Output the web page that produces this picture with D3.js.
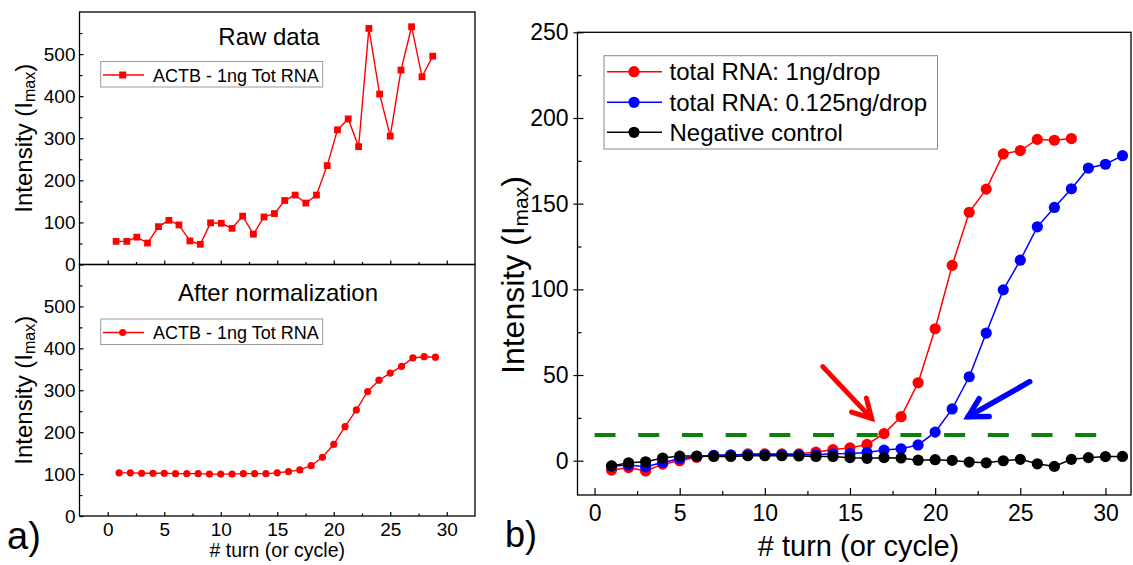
<!DOCTYPE html>
<html><head><meta charset="utf-8">
<script src="https://cdn.jsdelivr.net/npm/d3@7/dist/d3.min.js"></script>
<style>
body{margin:0;background:#fff}
text{font-family:"Liberation Sans",Arial,sans-serif;fill:#000}
</style>
</head><body>
<svg id="c" width="1133" height="565"></svg>
<script>
// ---------- data ----------
const rawTurns = [0.74,1.69,2.57,3.52,4.49,5.41,6.30,7.27,8.19,9.10,10.05,11.0,11.94,12.89,13.83,14.75,15.66,16.58,17.53,18.47,19.42,20.33,21.28,22.2,23.11,24.06,25.0,25.95,26.89,27.81,28.76];
const rawIntensity = [55,55,65,51,90,105,94,56,48,99,98,86,115,72,113,121,152,165,146,165,235,320,346,280,561,405,305,462,565,446,495];
const normTurns = [1,2,3,4,5,6,7,8,9,10,11,12,13,14,15,16,17,18,19,20,21,22,23,24,25,26,27,28,29];
const normIntensity = [103,103,102,102,102,101,101,101,100,100,100,101,101,101,103,106,110,120,140,171,213,253,297,324,341,357,377,380,379];

const turnsRed = [1,2,3,4,5,6,7,8,9,10,11,12,13,14,15,16,17,18,19,20,21,22,23,24,25,26,27,28];
const rna1ng = [-5.5,-4,-6,-2,0,2,3,3,4,4,4,4,5,6.5,7.5,9.5,15.8,25.7,45.5,77,114,145,158.5,179,181,187.5,187,188];
const turnsAll = [1,2,3,4,5,6,7,8,9,10,11,12,13,14,15,16,17,18,19,20,21,22,23,24,25,26,27,28,29,30,31];
const rna0125ng = [-3.2,-2.5,-3.5,-1,1.2,2.5,3.2,3.5,3.5,3.5,3.5,3.5,3.5,4,4.2,4.8,6.2,7,9.2,16.7,30.2,49,74.5,99.7,117,136.5,147.8,158.7,170.8,173,178];
const negControl = [-3,-1.2,-0.6,1.6,2.7,2.7,2.5,2.5,2.9,2.9,2.9,2.8,2.5,2.5,1.8,1.4,1.8,1.6,0.3,0.6,0.2,-0.8,-1.2,0,0.8,-1.8,-3.3,0.8,1.8,2.4,2.5];

const thresholdValue = 15;
const thresholdTurns = [0, 29.6];
const arrowRed = {from:[13.4,54.9], to:[16.27,24.7]};
const arrowBlue = {from:[25.55,46.1], to:[21.94,25.7]};

const xTickLabels = [0,5,10,15,20,25,30];
const xMinorTicks = [2.5,7.5,12.5,17.5,22.5,27.5,32.5];
const leftYTickLabels = [0,100,200,300,400,500];
const leftYMinor = [50,150,250,350,450,550];
const rightYTickLabels = [0,50,100,150,200,250];
const rightYMinor = [-25,25,75,125,175,225];

const legendLeft = "ACTB - 1ng Tot RNA";
const legendRight = ["total RNA: 1ng/drop","total RNA: 0.125ng/drop","Negative control"];

// ---------- drawing ----------
const svg = d3.select("#c");

// left scales
const xL = d3.scaleLinear().domain([-2.5,32.5]).range([79.5,475]);
const yTop = d3.scaleLinear().domain([0,600]).range([264.5,12]);
const yBot = d3.scaleLinear().domain([0,600]).range([516,264.5]);
// right scales
const xR = d3.scaleLinear().domain([-1,31.5]).range([577.5,1131]);
const yR = d3.scaleLinear().domain([-20,250]).range([495,32.3]);

function cleanAxis(g){ g.select(".domain").remove(); g.selectAll(".tick line").attr("stroke","#000").attr("stroke-width",1.2); }

function leftPanel(y, showXLabels, titleText, titleY, legendY, marker, xs, ys){
  const g = svg.append("g");
  // y axis
  const ya = g.append("g").attr("transform",`translate(${xL.range()[0]},0)`)
    .call(d3.axisLeft(y).tickValues(leftYTickLabels).tickSize(-4).tickPadding(4).tickFormat(d3.format("d")));
  cleanAxis(ya);
  ya.selectAll("text").attr("font-size",19).attr("font-family","Liberation Sans, Arial, sans-serif");
  const ym = g.append("g").attr("transform",`translate(${xL.range()[0]},0)`)
    .call(d3.axisLeft(y).tickValues(leftYMinor).tickSize(-3).tickFormat(""));
  cleanAxis(ym);
  // x axis
  const xa = g.append("g").attr("transform",`translate(0,${y.range()[0]})`)
    .call(d3.axisBottom(xL).tickValues(xTickLabels).tickSize(-4).tickPadding(7).tickFormat(showXLabels? d3.format("d"):""));
  cleanAxis(xa);
  xa.selectAll("text").attr("font-size",19).attr("font-family","Liberation Sans, Arial, sans-serif");
  const xm = g.append("g").attr("transform",`translate(0,${y.range()[0]})`)
    .call(d3.axisBottom(xL).tickValues(xMinorTicks.filter(v=>v<32)).tickSize(-2.5).tickFormat(""));
  cleanAxis(xm);
  // frame
  g.append("rect").attr("x",xL.range()[0]).attr("y",y.range()[1])
    .attr("width",xL.range()[1]-xL.range()[0]).attr("height",y.range()[0]-y.range()[1])
    .attr("fill","none").attr("stroke","#000").attr("stroke-width",1.3);
  // title
  g.append("text").attr("x", titleText==="Raw data"?269:278).attr("y",titleY)
    .attr("text-anchor","middle").attr("font-size",24).text(titleText);
  // y label
  const cy = (y.range()[0]+y.range()[1])/2;
  const yl = g.append("text").attr("transform",`translate(32,${cy}) rotate(-90)`)
    .attr("text-anchor","middle").attr("font-size",24);
  yl.append("tspan").text("Intensity (I");
  yl.append("tspan").attr("font-size",16).attr("dy",3).text("max");
  yl.append("tspan").attr("dy",-3).text(")");
  // legend
  g.append("rect").attr("x",100.7).attr("y",legendY-13.5).attr("width",222).attr("height",25.5)
    .attr("fill","#fff").attr("stroke","#999").attr("stroke-width",1);
  g.append("line").attr("x1",103).attr("x2",144).attr("y1",legendY).attr("y2",legendY)
    .attr("stroke","#f00").attr("stroke-width",1.5);
  if(marker==="square"){
    g.append("rect").attr("x",122.7-3.5).attr("y",legendY-3.5).attr("width",7).attr("height",7).attr("fill","#f00");
  } else {
    g.append("circle").attr("cx",122.7).attr("cy",legendY).attr("r",3.6).attr("fill","#f00");
  }
  g.append("text").attr("x",153).attr("y",legendY+6.5).attr("font-size",18).text(legendLeft);
  // data
  const pts = xs.map((x,i)=>[x,ys[i]]);
  g.append("path").datum(pts).attr("fill","none").attr("stroke","#f00").attr("stroke-width",1.4)
    .attr("d", d3.line().x(d=>xL(d[0])).y(d=>y(d[1])));
  if(marker==="square"){
    g.selectAll(".m").data(pts).join("rect").attr("x",d=>xL(d[0])-3.4).attr("y",d=>y(d[1])-3.4)
      .attr("width",6.8).attr("height",6.8).attr("fill","#f00");
  } else {
    g.selectAll(".m").data(pts).join("circle").attr("cx",d=>xL(d[0])).attr("cy",d=>y(d[1])).attr("r",3.6).attr("fill","#f00");
  }
}

leftPanel(yTop,false,"Raw data",45,75,"square",rawTurns,rawIntensity);
leftPanel(yBot,true,"After normalization",300.7,332.5,"circle",normTurns,normIntensity);

// left x title and label
svg.append("text").attr("x",(xL.range()[0]+xL.range()[1])/2+0).attr("y",557).attr("text-anchor","middle")
  .attr("font-size",19.5).text("# turn (or cycle)");
svg.append("text").attr("x",7).attr("y",549).attr("font-size",38).text("a)");

// ---------- right panel ----------
const gR = svg.append("g");
const yaR = gR.append("g").attr("transform",`translate(${xR.range()[0]},0)`)
  .call(d3.axisLeft(yR).tickValues(rightYTickLabels).tickSize(4).tickPadding(5).tickFormat(d3.format("d")));
cleanAxis(yaR);
yaR.selectAll("text").attr("font-size",23).attr("font-family","Liberation Sans, Arial, sans-serif");
const yaR2 = gR.append("g").attr("transform",`translate(${xR.range()[0]},0)`)
  .call(d3.axisLeft(yR).tickValues(rightYTickLabels).tickSize(-6).tickFormat(""));
cleanAxis(yaR2);
const ymR = gR.append("g").attr("transform",`translate(${xR.range()[0]},0)`)
  .call(d3.axisLeft(yR).tickValues(rightYMinor.filter(v=>v>-20)).tickSize(-4).tickFormat(""));
cleanAxis(ymR);
const xaR = gR.append("g").attr("transform",`translate(0,${yR.range()[0]})`)
  .call(d3.axisBottom(xR).tickValues(xTickLabels).tickSize(-7).tickPadding(10).tickFormat(d3.format("d")));
cleanAxis(xaR);
xaR.selectAll("text").attr("font-size",23).attr("font-family","Liberation Sans, Arial, sans-serif");
const xmR = gR.append("g").attr("transform",`translate(0,${yR.range()[0]})`)
  .call(d3.axisBottom(xR).tickValues(xMinorTicks.filter(v=>v<31.5)).tickSize(-4).tickFormat(""));
cleanAxis(xmR);
gR.append("rect").attr("x",xR.range()[0]).attr("y",yR.range()[1])
  .attr("width",xR.range()[1]-xR.range()[0]).attr("height",yR.range()[0]-yR.range()[1])
  .attr("fill","none").attr("stroke","#000").attr("stroke-width",1.3);

// threshold
gR.append("line").attr("x1",xR(thresholdTurns[0])).attr("x2",xR(thresholdTurns[1]))
  .attr("y1",yR(thresholdValue)).attr("y2",yR(thresholdValue))
  .attr("stroke","#0a820a").attr("stroke-width",4).attr("stroke-dasharray","21,22.7");

const seriesR = [
  {xs:turnsRed, ys:rna1ng, color:"#ff0000"},
  {xs:turnsAll, ys:rna0125ng, color:"#0000ff"},
  {xs:turnsAll, ys:negControl, color:"#000000"}
];
seriesR.forEach(s=>{
  const pts = s.xs.map((x,i)=>[x,s.ys[i]]);
  gR.append("path").datum(pts).attr("fill","none").attr("stroke",s.color).attr("stroke-width",1.5)
    .attr("d", d3.line().x(d=>xR(d[0])).y(d=>yR(d[1])));
  gR.append("g").selectAll("circle").data(pts).join("circle")
    .attr("cx",d=>xR(d[0])).attr("cy",d=>yR(d[1])).attr("r",5.6).attr("fill",s.color);
});

// arrows
function arrow(a,color,w){
  const x1=xR(a.from[0]), y1=yR(a.from[1]), x2=xR(a.to[0]), y2=yR(a.to[1]);
  const ang = Math.atan2(y1-y2,x1-x2);
  const L = 21, da = 29*Math.PI/180;
  const g = gR.append("g").attr("stroke",color).attr("stroke-width",w).attr("stroke-linecap","round").attr("fill","none");
  g.append("line").attr("x1",x1).attr("y1",y1).attr("x2",x2).attr("y2",y2);
  g.append("path").attr("stroke-linejoin","miter")
    .attr("d",`M${x2+L*Math.cos(ang+da)},${y2+L*Math.sin(ang+da)}L${x2},${y2}L${x2+L*Math.cos(ang-da)},${y2+L*Math.sin(ang-da)}`);
}
arrow(arrowRed,"#ff0000",5);
arrow(arrowBlue,"#0000ff",5.5);

// legend
gR.append("rect").attr("x",604).attr("y",55.7).attr("width",333.5).attr("height",93.3)
  .attr("fill","#fff").attr("stroke","#888").attr("stroke-width",1);
const legRowY = [71.7,102.3,132.3];
seriesR.forEach((s,i)=>{
  gR.append("line").attr("x1",607).attr("x2",662).attr("y1",legRowY[i]).attr("y2",legRowY[i])
    .attr("stroke",s.color).attr("stroke-width",1.5);
  gR.append("circle").attr("cx",634).attr("cy",legRowY[i]).attr("r",5.6).attr("fill",s.color);
  gR.append("text").attr("x",669.5).attr("y",legRowY[i]+8.5).attr("font-size",24).text(legendRight[i]);
});

// titles
const cyR = 275;
const ylR = svg.append("text").attr("transform",`translate(524,${cyR}) rotate(-90)`)
  .attr("text-anchor","middle").attr("font-size",32);
ylR.append("tspan").text("Intensity (I");
ylR.append("tspan").attr("font-size",21).attr("dy",4).text("max");
ylR.append("tspan").attr("dy",-4).text(")");
svg.append("text").attr("x",858.5).attr("y",556).attr("text-anchor","middle").attr("font-size",29).text("# turn (or cycle)");
svg.append("text").attr("x",505).attr("y",547).attr("font-size",36).text("b)");
</script>
</body></html>
